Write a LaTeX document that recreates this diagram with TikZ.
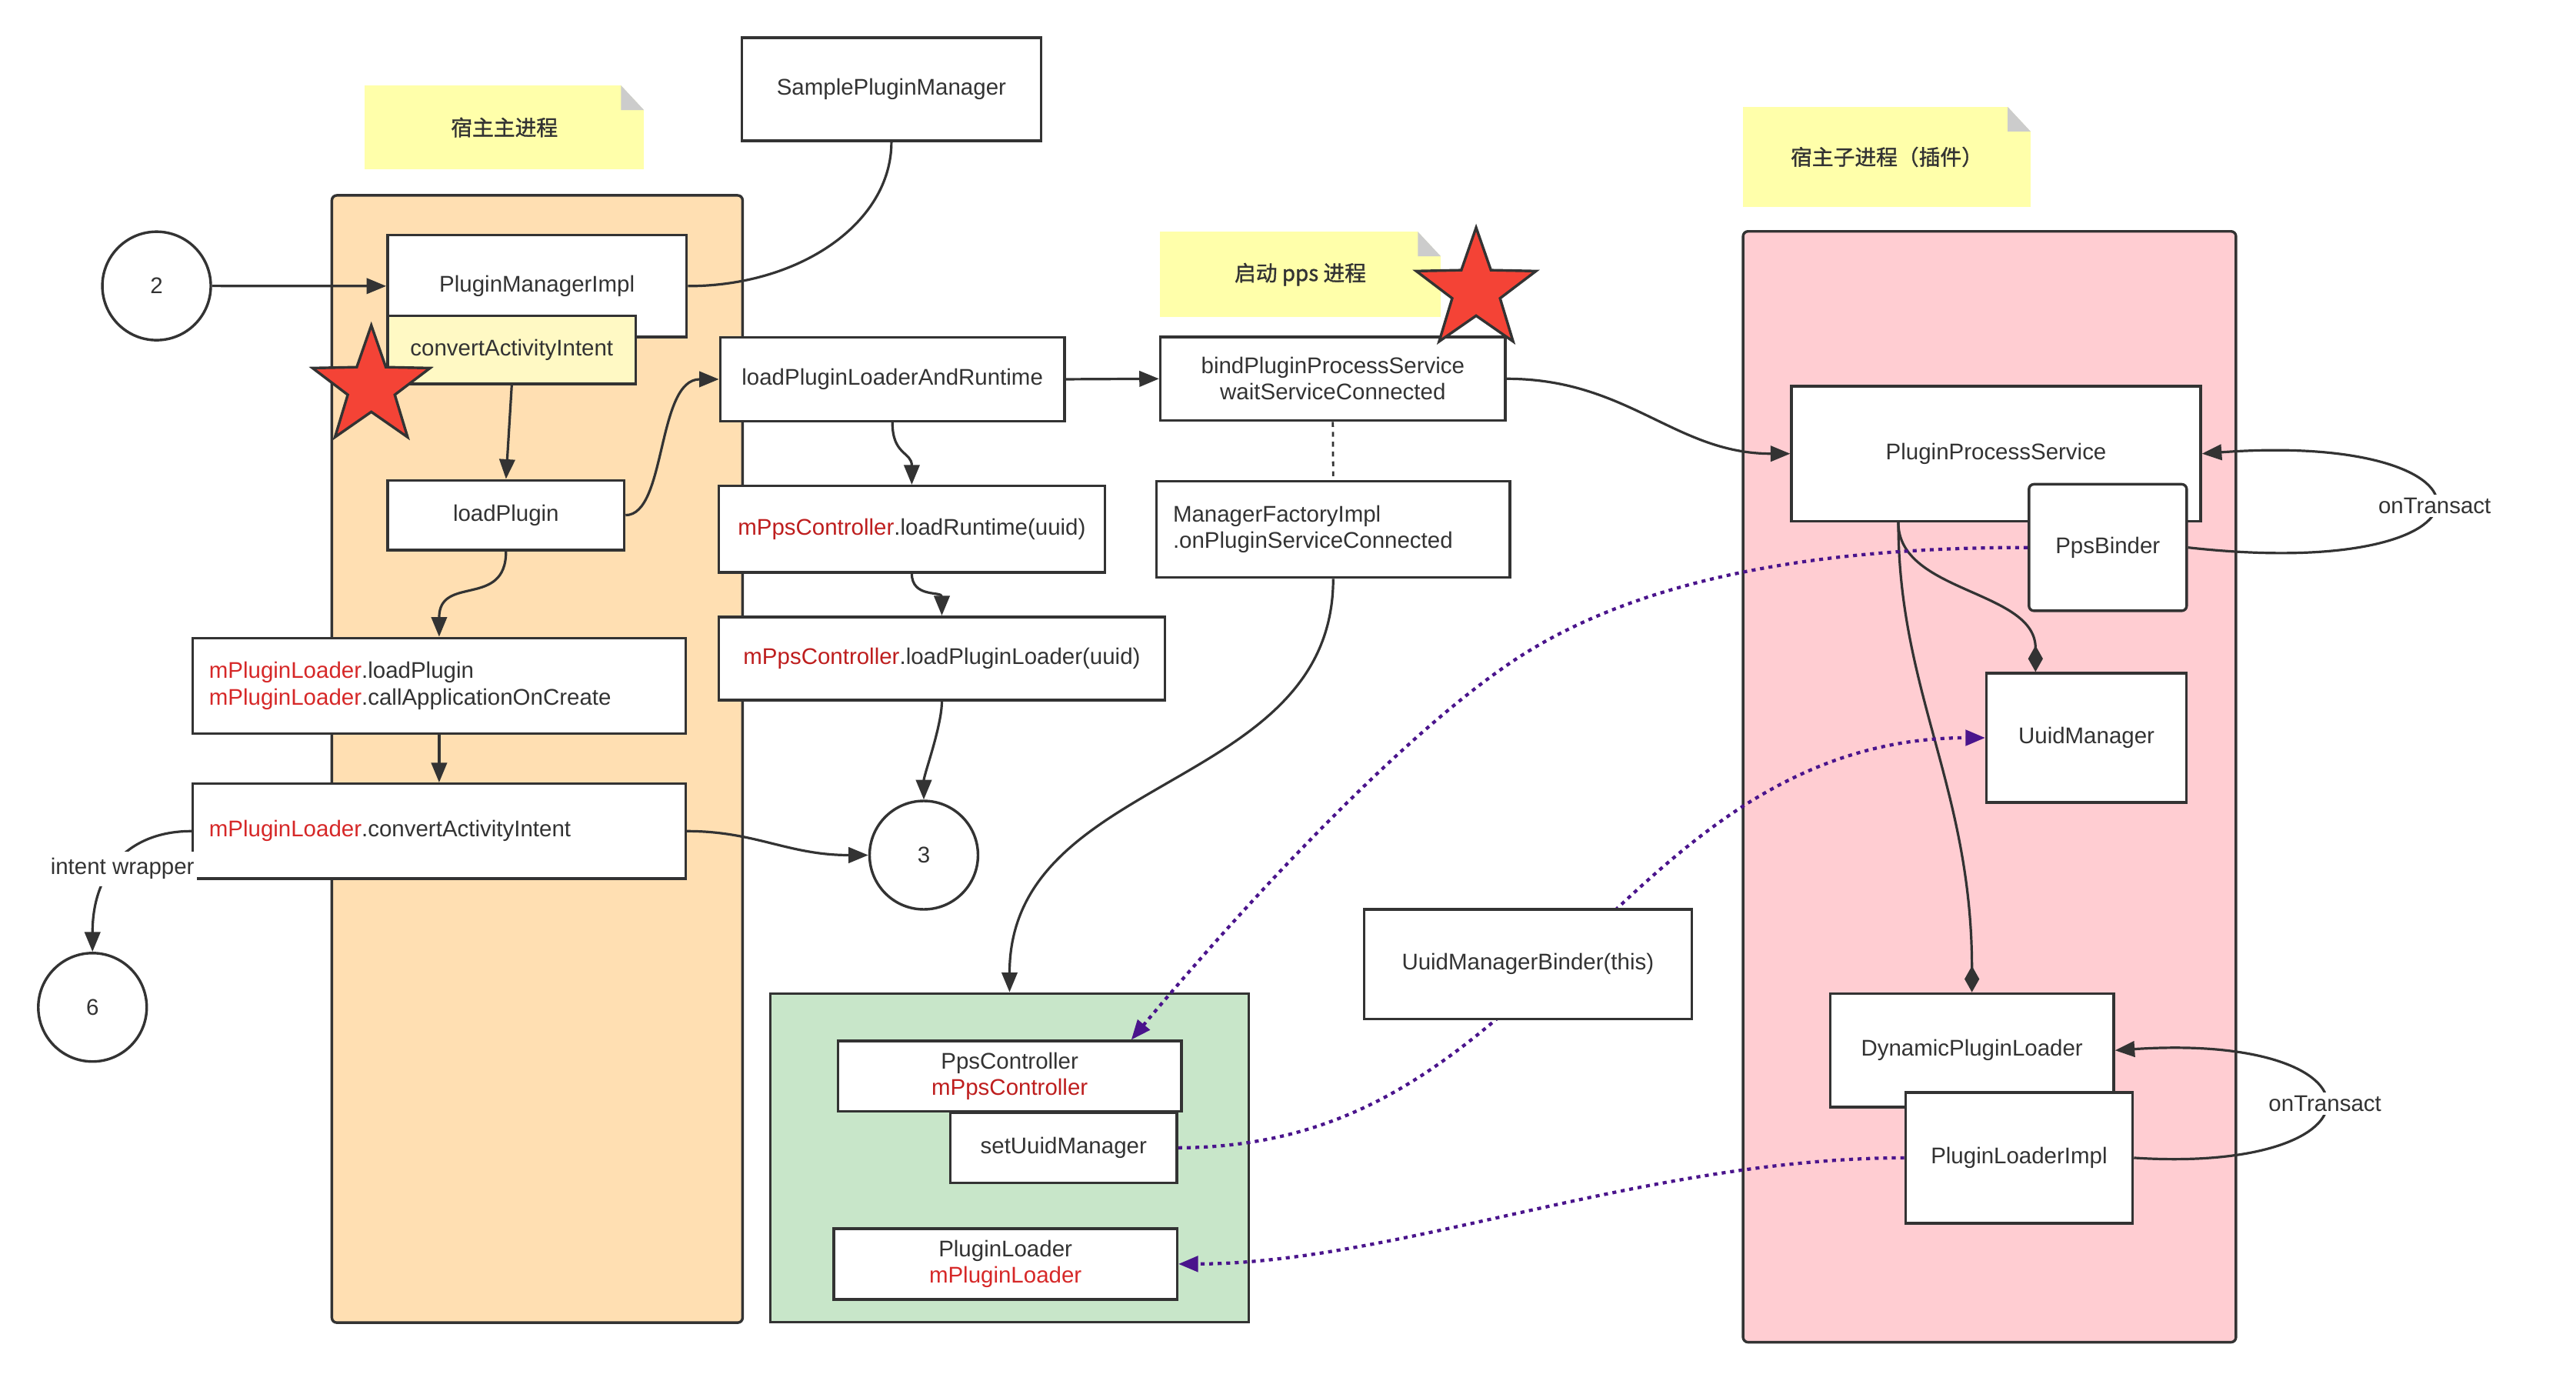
\documentclass[tikz,border=0pt]{standalone}
\usepackage{fontspec}
\setmainfont{Liberation Sans}
\newfontfamily\cjk{Noto Sans CJK SC}[FakeBold=1.2]
\usetikzlibrary{arrows.meta,shapes.geometric,calc}

\definecolor{ln}{HTML}{333333}
\definecolor{txt}{HTML}{333333}
\definecolor{peach}{RGB}{255,223,178}
\definecolor{mint}{RGB}{200,230,201}
\definecolor{rose}{RGB}{255,205,210}
\definecolor{notey}{RGB}{255,255,170}
\definecolor{foldgray}{RGB}{204,204,204}
\definecolor{lemon}{RGB}{255,249,196}
\definecolor{starred}{RGB}{244,67,54}
\definecolor{purp}{RGB}{74,20,140}
\definecolor{varA}{RGB}{190,30,30}
\definecolor{varB}{RGB}{214,40,40}

\pgfdeclarelayer{bg}
\pgfdeclarelayer{edges}
\pgfsetlayers{bg,edges,main}

\begin{document}
\begin{tikzpicture}[x=1pt,y=-1pt,
  every node/.style={font=\fontsize{13.8}{16}\selectfont, text=txt},
  box/.style={draw=ln, line width=1.6pt, fill=white, inner sep=0pt, align=center},
  lbox/.style={box, align=left, inner xsep=10pt},
  circ/.style={draw=ln, line width=1.6pt, fill=white, circle, inner sep=0pt, minimum size=66pt},
  area/.style={draw=ln, line width=1.6pt, inner sep=0pt},
  note/.style={fill=notey, inner sep=0pt, font=\cjk\fontsize{13}{16}\selectfont,
    path picture={
      \fill[white] (path picture bounding box.north east) -- +(-14,0) -- +(0,15) -- cycle;
      \fill[foldgray] ($(path picture bounding box.north east)+(-14,0)$) -- +(0,15) -- +(14,15) -- cycle;
    }},
  mark star/.style={star, star points=5, star point ratio=2.5, inner sep=0pt,
    draw=ln, line width=1.6pt, fill=starred},
  flow/.style={draw=ln, line width=1.5pt, -{Triangle[length=12pt,width=9.5pt]}},
  assoc/.style={draw=ln, line width=1.5pt, -{Diamond[length=16pt,width=9pt]}},
  link/.style={draw=purp, line width=2pt, dash pattern=on 2.4pt off 2.8pt,
    -{Triangle[length=12pt,width=9.5pt]}},
]
\useasboundingbox (0,0) rectangle (1568,840);

% process areas and captions
\begin{pgfonlayer}{bg}
  \node[note, minimum width=170pt, minimum height=51pt] (capHost) at (307,77.5) {宿主主进程};
  \node[note, minimum width=171pt, minimum height=52pt] (capPps) at (791.5,167) {启动 pps 进程};
  \node[note, minimum width=175pt, minimum height=61pt] (capPlugin) at (1148.5,95.5) {宿主子进程（插件）};
  \node[area, fill=peach, rounded corners=3pt, minimum width=250pt, minimum height=686pt] (hostArea) at (327,461.9) {};
  \node[area, fill=mint, minimum width=291pt, minimum height=200pt] (loaderArea) at (614.5,704.6) {};
  \node[area, fill=rose, rounded corners=3pt, minimum width=300pt, minimum height=676pt] (pluginArea) at (1211,478.8) {};
\end{pgfonlayer}

% host process
\node[circ] (c2) at (95.3,174) {2};
\node[box, minimum width=182pt, minimum height=62.7pt] (spm) at (542.6,54.3) {SamplePluginManager};
\node[box, minimum width=182pt, minimum height=62pt] (pmi) at (326.9,174.1) {PluginManagerImpl};
\node[box, fill=lemon, minimum width=151pt, minimum height=41.3pt] (cai) at (311.5,212.9) {convertActivityIntent};
\node[box, minimum width=144pt, minimum height=42.4pt] (lp) at (308,313.5) {loadPlugin};
\node[lbox, text width=280pt, minimum height=58pt] (mpl) at (267.3,417.3)
  {\textcolor{varB}{mPluginLoader}.loadPlugin\\\textcolor{varB}{mPluginLoader}.callApplicationOnCreate};
\node[lbox, text width=280pt, minimum height=57.7pt] (mca) at (267.3,505.8)
  {\textcolor{varB}{mPluginLoader}.convertActivityIntent};
\node[circ] (c3) at (562.3,520.4) {3};
\node[circ] (c6) at (56.3,613) {6};

\node[box, minimum width=209.6pt, minimum height=51pt] (lplar) at (543.2,230.8) {loadPluginLoaderAndRuntime};
\node[box, minimum width=235pt, minimum height=52.5pt] (lrt) at (555,322) {\textcolor{varA}{mPpsController}.loadRuntime(uuid)};
\node[box, minimum width=271.5pt, minimum height=50.6pt] (lpl) at (573.3,400.7) {\textcolor{varA}{mPpsController}.loadPluginLoader(uuid)};

\node[box, minimum width=210pt, minimum height=51pt] (bps) at (811.3,230.5) {bindPluginProcessService\\waitServiceConnected};
\node[lbox, text width=195pt, minimum height=58.5pt] (mfi) at (811.5,322.2) {ManagerFactoryImpl\\.onPluginServiceConnected};

% loader objects held by the host
\node[box, minimum width=209pt, minimum height=42.7pt] (pc) at (614.6,654.9) {PpsController\\\textcolor{varA}{mPpsController}};
\node[box, minimum width=138pt, minimum height=42.6pt] (sum) at (647.4,698.5) {setUuidManager};
\node[box, minimum width=209pt, minimum height=43pt] (pl) at (612,769.2) {PluginLoader\\\textcolor{varB}{mPluginLoader}};

% plugin process
\node[box, minimum width=249pt, minimum height=82.2pt] (pps) at (1215,276.1) {PluginProcessService};
\node[box, rounded corners=3pt, minimum width=96pt, minimum height=77pt] (ppsb) at (1283,333.2) {PpsBinder};
\node[box, minimum width=121.7pt, minimum height=78.7pt] (um) at (1270,449) {UuidManager};
\node[box, minimum width=172.5pt, minimum height=69.2pt] (dpl) at (1200.3,639.2) {DynamicPluginLoader};
\node[box, minimum width=138.2pt, minimum height=79.6pt] (pli) at (1229,704.6) {PluginLoaderImpl};

\node[box, minimum width=199.5pt, minimum height=66.7pt] (umb) at (930,586.8) {UuidManagerBinder(this)};

% highlights
\node[mark star, minimum size=75.2pt] (star1) at (226,235.6) {};
\node[mark star, minimum size=76.6pt] (star2) at (898.5,176.8) {};

% connectors
\begin{pgfonlayer}{edges}
  \draw[flow] (c2.east) -- (pmi.west);
  \draw[draw=ln, line width=1.5pt] (pmi.east) .. controls +(68.8,0) and +(0,48.8) .. (spm.south);
  \draw[flow] (cai.south) -- (lp.north);
  \draw[flow] (lp.east) .. controls +(25,0) and +(-38,0) .. (lplar.west);
  \draw[flow] (lp.south) .. controls +(0,35) and +(0,-38) .. (mpl.north);
  \draw[flow] (mpl.south) -- (mca.north);
  \draw[flow] (mca.east) .. controls +(42,0) and +(-49,0) .. (c3.west);
  \draw[flow] (lplar.south) .. controls +(0,20) and +(0,-20) .. (lrt.north);
  \draw[flow] (lrt.south) .. controls +(0,15) and +(0,-15) .. (lpl.north);
  \draw[flow] (lpl.south) .. controls +(0,15) and +(0,-15) .. (c3.north);
  \draw[flow] (lplar.east) -- (bps.west);
  \draw[draw=ln, line width=1.3pt, dash pattern=on 3pt off 3pt] (bps.south) -- (mfi.north);
  \draw[flow] (mfi.south) .. controls +(0,130) and +(0,-134) .. (loaderArea.north);
  \draw[flow] (bps.east) .. controls +(74,0) and +(-70,0) .. (pps.west);
  \draw[assoc] ([xshift=-59.5pt]pps.south) .. controls +(0,43) and +(0,-50) .. ([xshift=-31pt]um.north);
  \draw[assoc] ([xshift=-59.5pt]pps.south) .. controls +(0,103) and +(0,-124) .. (dpl.north);
  \draw[flow] (ppsb.east) .. controls +(199,22) and +(190,-14) ..
    node[fill=white, inner sep=2pt] (ot1) {onTransact} (pps.east);
  \draw[flow] (pli.east) .. controls +(157,10) and +(168.5,-11) ..
    node[fill=white, inner sep=2pt] (ot2) {onTransact} (dpl.east);
  \draw[link] (ppsb.west) .. controls (1120,333) and (999,348) .. (917,405)
    .. controls (843,456) and (746,564) .. ([xshift=74pt]pc.north);
  \draw[link] (sum.east) .. controls (820,698) and (880,650) .. (947,588)
    .. controls (1010,530) and (1080,449) .. (um.west);
  \draw[link] (pli.west) .. controls (1000,705) and (850,769) .. (pl.east);
\end{pgfonlayer}

\draw[flow] (mca.west) .. controls +(-37,0) and +(0,-50) ..
  node[pos=0.5, yshift=-5pt, xshift=2pt, fill=white, inner xsep=1.5pt, inner ysep=4pt] (iw) {intent wrapper} (c6.north);

\end{tikzpicture}
\end{document}
